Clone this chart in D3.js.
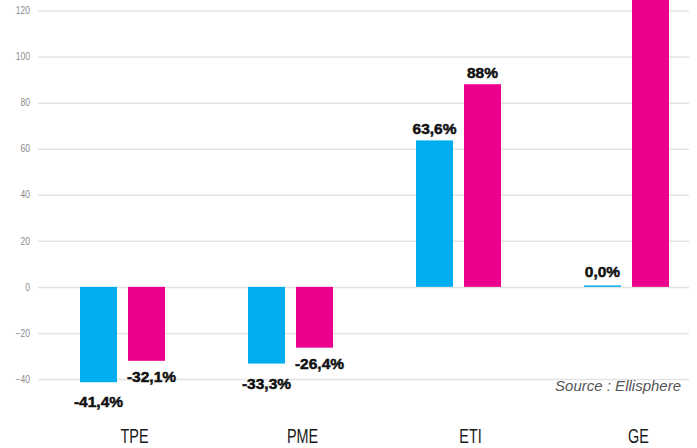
<!DOCTYPE html>
<html>
<head>
<meta charset="utf-8">
<script src="https://cdn.jsdelivr.net/npm/d3@7"></script>
<style>
  body { margin: 0; background: #fff; }
  svg { display: block; }
</style>
</head>
<body>
<svg width="697" height="448"></svg>
<script>
var categories = ["TPE", "PME", "ETI", "GE"];
var series = ["a", "b"];
var valuesA = [-41.4, -33.3, 63.6, 0.0];
var valuesB = [-32.1, -26.4, 88, 150];
var labelsA = ["-41,4%", "-33,3%", "63,6%", "0,0%"];
var labelsB = ["-32,1%", "-26,4%", "88%", ""];
var yTicks = [-40, -20, 0, 20, 40, 60, 80, 100, 120];

var color = { a: "#00aeef", b: "#ec008c" };
var svg = d3.select("svg");

var x0 = d3.scaleBand()
    .domain(categories)
    .range([38.5, 710.5])
    .paddingInner(0.494)
    .paddingOuter(0.247);

var x1 = d3.scaleBand()
    .domain(series)
    .range([0, x0.bandwidth()])
    .paddingInner(11 / 48);

var y = d3.scaleLinear()
    .domain([-40, 120])
    .range([379, 10.5]);

// grid lines + tick labels
var yAxis = d3.axisLeft(y)
    .tickValues(yTicks)
    .tickSize(-(689 - 38))
    .tickPadding(8);

var gy = svg.append("g")
    .attr("transform", "translate(38,0)")
    .call(yAxis);
gy.select(".domain").remove();
gy.selectAll(".tick line")
    .attr("stroke", "#e3e3e3")
    .attr("stroke-width", 1.5);
gy.selectAll(".tick text")
    .attr("fill", "#8a8a8a")
    .attr("font-family", "'Liberation Sans', sans-serif")
    .attr("font-size", 10)
    .attr("transform", "scale(0.85,1)")
    .attr("x", -8 / 0.85);

var data = categories.map(function(c, i) {
  return { cat: c, vals: [
    { s: "a", v: valuesA[i], label: labelsA[i] },
    { s: "b", v: valuesB[i], label: labelsB[i] }
  ]};
});

var groups = svg.append("g")
  .selectAll("g")
  .data(data)
  .enter().append("g")
  .attr("transform", function(d) { return "translate(" + x0(d.cat) + ",0)"; });

function barH(d) { return Math.max(Math.abs(y(d.v) - y(0)), 1.5); }

groups.selectAll("rect")
  .data(function(d) { return d.vals; })
  .enter().append("rect")
  .attr("x", function(d) { return x1(d.s); })
  .attr("width", x1.bandwidth())
  .attr("y", function(d) { return d.v >= 0 ? y(0) - barH(d) : y(0); })
  .attr("height", barH)
  .attr("fill", function(d) { return color[d.s]; });

groups.selectAll("text.val")
  .data(function(d) { return d.vals; })
  .enter().append("text")
  .attr("class", "val")
  .attr("x", function(d) { return x1(d.s) + x1.bandwidth() / 2 + (d.s === "b" && d.v < 0 ? 5 : 0); })
  .attr("y", function(d) {
    if (d.v >= 0) return y(d.v) - (d.v === 0 ? 10 : 6);
    return y(d.v) + (d.s === "a" ? 25 : 21);
  })
  .attr("text-anchor", "middle")
  .attr("font-family", "'Liberation Sans', Arial, sans-serif")
  .attr("font-weight", "bold")
  .attr("font-size", 15.5)
  .attr("fill", "#111")
  .attr("stroke", "#111")
  .attr("stroke-width", 0.5)
  .text(function(d) { return d.label; });

// category labels (narrow look)
svg.append("g")
  .selectAll("text")
  .data(categories)
  .enter().append("text")
  .attr("transform", function(d) {
    return "translate(" + (x0(d) + x0.bandwidth() / 2 + 12) + ",443) scale(0.72,1)";
  })
  .attr("text-anchor", "middle")
  .attr("font-family", "'Liberation Sans', sans-serif")
  .attr("font-size", 20)
  .attr("fill", "#1a1a1a")
  .text(function(d) { return d; });

svg.append("text")
  .attr("x", 681)
  .attr("y", 391)
  .attr("text-anchor", "end")
  .attr("font-family", "'Liberation Sans', sans-serif")
  .attr("font-style", "italic")
  .attr("font-size", 15)
  .attr("fill", "#555")
  .text("Source : Ellisphere");
</script>
</body>
</html>
